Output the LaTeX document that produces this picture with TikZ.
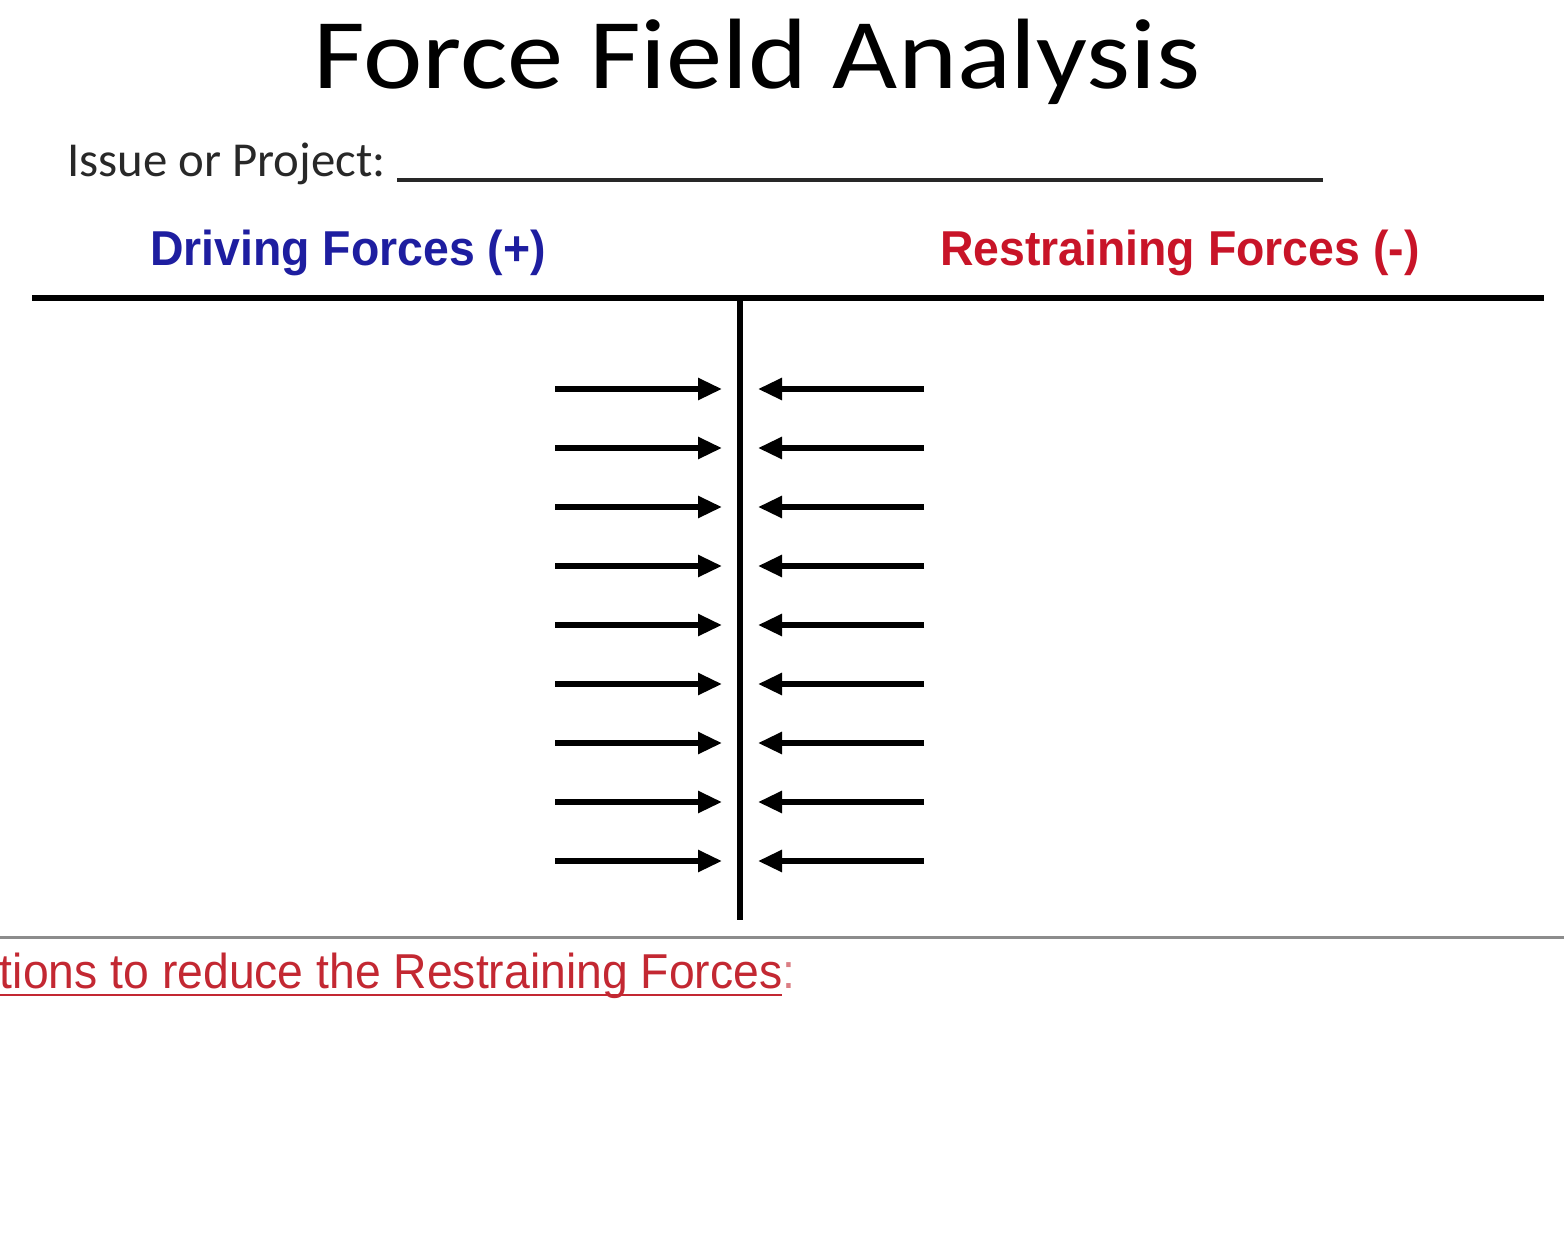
\documentclass[tikz,border=0pt]{standalone}
\usepackage{fontspec}
\setmainfont{Liberation Sans}
\newfontfamily\calfont{Carlito}
\usetikzlibrary{arrows.meta}
\definecolor{dblue}{RGB}{30,30,160}
\definecolor{dred}{RGB}{200,20,40}
\definecolor{lred}{RGB}{195,40,50}
\definecolor{tgray}{RGB}{40,40,40}
\begin{document}
\begin{tikzpicture}[x=0.5pt,y=-0.5pt,
  txt/.style={inner sep=0pt,outer sep=0pt},
  heavy/.style={line width=3pt,black},
  force/.style={line width=2.8pt,black,-{Triangle[length=12pt,width=10.5pt]}},
  headblue/.style={txt,xscale=0.947,font=\fontsize{24.5}{29}\selectfont\bfseries,text=dblue},
  headred/.style={txt,xscale=0.947,font=\fontsize{24.5}{29}\selectfont\bfseries,text=dred}]
\useasboundingbox[fill=white] (0,0) rectangle (1564,1243);
\node[txt,anchor=base,xscale=1.125,font=\calfont\fontsize{50}{60}\selectfont] (title) at (757,88) {Force Field Analysis};
\node[txt,anchor=base west,text=tgray,font=\calfont\fontsize{24.4}{30}\selectfont] (issue) at (67,176) {Issue or Project:};
\coordinate (ulA) at (397,180);
\coordinate (ulB) at (1323,180);
\draw[line width=1.6pt,tgray] (ulA) -- (ulB);
\node[headblue,anchor=base west] (driving) at (150,265) {Driving Forces (+)};
\node[headred,anchor=base west] (restr) at (940,265) {Restraining Forces (-)};
\coordinate (hL) at (32,298);
\coordinate (hR) at (1544,298);
\coordinate (vT) at (740,298);
\coordinate (vB) at (740,920);
\draw[heavy] (hL) -- (hR);
\draw[heavy] (vT) -- (vB);
\foreach \i in {0,...,8}{
  \pgfmathsetmacro{\yy}{389+59*\i}
  \coordinate (ls\i) at (555,\yy);
  \coordinate (le\i) at (722,\yy);
  \coordinate (rs\i) at (924,\yy);
  \coordinate (re\i) at (758,\yy);
  \draw[force] (ls\i) -- (le\i);
  \draw[force] (rs\i) -- (re\i);
}
\coordinate (gL) at (0,937);
\coordinate (gR) at (1564,937);
\draw[line width=1.5pt,black!45] (gL) -- (gR);
\node[txt,anchor=base west,xscale=0.945,text=lred,font=\fontsize{24.5}{29}\selectfont] (act) at (0,988) {tions to reduce the Restraining Forces};
\node[txt,anchor=base west,xscale=0.945,text=lred!60,font=\fontsize{24.5}{29}\selectfont] (colon) at (act.base east) {:};
\draw[lred,line width=0.9pt] ([yshift=-3.5pt]act.base west) -- ([yshift=-3.5pt]act.base east);
\end{tikzpicture}
\end{document}
